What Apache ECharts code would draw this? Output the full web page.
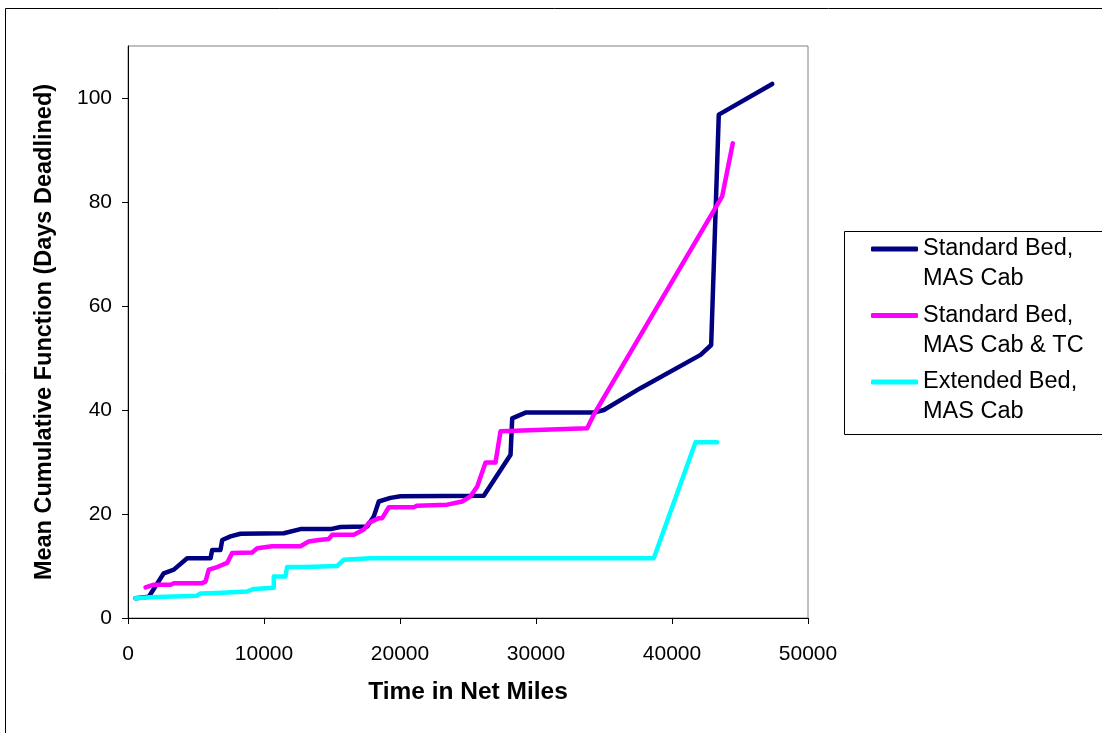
<!DOCTYPE html>
<html>
<head>
<meta charset="utf-8">
<script src="https://cdn.jsdelivr.net/npm/echarts@6/dist/echarts.min.js"></script>
<style>
html,body{margin:0;padding:0;background:#fff;}
#chart{width:1102px;height:733px;}
</style>
</head>
<body>
<div id="chart"></div>
<script>
// ---- data ----
const seriesNames = ['Standard Bed, MAS Cab', 'Standard Bed, MAS Cab & TC', 'Extended Bed, MAS Cab'];
const seriesColors = ['#000080', '#FF00FF', '#00FFFF'];

const navyX = [550, 1530, 2630, 3370, 4350, 6070, 6190, 6800, 6930, 7540, 8270, 11460, 12680, 14890, 15630, 17590, 18070, 18440, 19300, 20040, 26160, 28130, 28250, 29230, 34250, 34990, 37680, 42100, 42880, 43440, 47370];
const navyY = [3.8, 4.1, 8.6, 9.3, 11.5, 11.5, 13.1, 13.1, 15.0, 15.7, 16.2, 16.3, 17.1, 17.1, 17.5, 17.6, 19.5, 22.4, 23.1, 23.4, 23.5, 31.4, 38.4, 39.5, 39.5, 40.0, 44.2, 50.6, 52.5, 96.8, 102.7];

const magX = [1290, 1900, 3130, 3370, 5450, 5700, 5940, 6560, 7290, 7660, 9130, 9500, 10600, 12680, 13290, 14030, 14760, 15010, 16600, 17340, 17710, 18440, 18690, 19180, 21010, 21270, 23470, 24570, 25180, 25680, 26290, 27020, 27390, 33760, 34250, 43690, 44470];
const magY = [5.9, 6.4, 6.4, 6.7, 6.7, 7.0, 9.3, 9.8, 10.6, 12.5, 12.6, 13.4, 13.8, 13.8, 14.7, 15.0, 15.2, 16.0, 16.0, 17.0, 18.3, 19.2, 19.2, 21.3, 21.3, 21.6, 21.8, 22.4, 23.4, 25.3, 29.9, 29.9, 35.9, 36.5, 39.1, 81.1, 91.3];

const cyanX = [550, 1650, 5090, 5300, 6560, 6700, 8760, 9250, 10720, 10720, 11580, 11700, 13050, 15380, 15870, 17830, 38660, 41730, 43320];
const cyanY = [3.8, 4.0, 4.3, 4.7, 4.8, 5.1, 5.1, 5.6, 5.8, 8.0, 8.0, 9.8, 9.8, 10.0, 11.2, 11.5, 11.5, 33.8, 33.8];

const xTicks = [0, 10000, 20000, 30000, 40000, 50000];
const yTicks = [0, 20, 40, 60, 80, 100];

const xTitle = 'Time in Net Miles';
const yTitle = 'Mean Cumulative Function (Days Deadlined)';

// ---- build ----
const zip = (xs, ys) => xs.map((x, i) => [x, ys[i]]);
const allData = [zip(navyX, navyY), zip(magX, magY), zip(cyanX, cyanY)];
const FONT = 'Liberation Sans, Arial, sans-serif';

const chart = echarts.init(document.getElementById('chart'), null, {renderer: 'canvas'});
chart.setOption({
  animation: false,
  backgroundColor: '#ffffff',
  grid: {
    left: 128, right: 294, top: 46, bottom: 115,
    show: true, borderColor: '#808080', borderWidth: 1,
    outerBoundsMode: 'none'
  },
  xAxis: {
    type: 'value', min: 0, max: 50000, interval: 10000,
    name: xTitle, nameLocation: 'middle', nameGap: 62,
    nameTextStyle: {fontFamily: FONT, fontSize: 24.5, fontWeight: 'bold', color: '#000'},
    axisLine: {show: true, lineStyle: {color: '#000', width: 1}},
    axisTick: {show: true, inside: false, length: 6, lineStyle: {color: '#000'}, customValues: xTicks},
    axisLabel: {fontFamily: FONT, fontSize: 21, color: '#000', margin: 26, customValues: xTicks,
      formatter: v => String(v)},
    splitLine: {show: false}
  },
  yAxis: {
    type: 'value', min: 0, max: 110, interval: 20,
    name: yTitle, nameLocation: 'middle', nameGap: 71, nameRotate: 90,
    nameTextStyle: {fontFamily: FONT, fontSize: 23.5, fontWeight: 'bold', color: '#000'},
    axisLine: {show: true, lineStyle: {color: '#000', width: 1}},
    axisTick: {show: true, inside: false, length: 6, lineStyle: {color: '#000'}, customValues: yTicks},
    axisLabel: {fontFamily: FONT, fontSize: 21, color: '#000', margin: 16, customValues: yTicks,
      formatter: v => String(v)},
    splitLine: {show: false}
  },
  legend: {
    show: true, orient: 'vertical', left: 871, top: 204, padding: 0,
    itemWidth: 47, itemHeight: 5, itemGap: -23.5, icon: 'roundRect',
    data: seriesNames,
    formatter: n => ' \n' + n.replace(', ', ',\n'),
    textStyle: {fontFamily: FONT, fontSize: 23.5, lineHeight: 30, color: '#000'}
  },
  graphic: [
    {type: 'rect', silent: true, shape: {x: 5.5, y: 8.5, width: 1200, height: 800}, style: {fill: 'none', stroke: '#000', lineWidth: 1}},
    {type: 'rect', silent: true, shape: {x: 844.5, y: 231.5, width: 400, height: 203}, style: {fill: 'none', stroke: '#000', lineWidth: 1}}
  ],
  series: seriesNames.map((name, i) => ({
    name, type: 'line', data: allData[i],
    symbol: 'none', showSymbol: false, smooth: false,
    color: seriesColors[i],
    lineStyle: {color: seriesColors[i], width: 4.5, cap: 'round', join: 'round'},
    itemStyle: {color: seriesColors[i]},
    z: 2 + i
  }))
});
</script>
</body>
</html>
